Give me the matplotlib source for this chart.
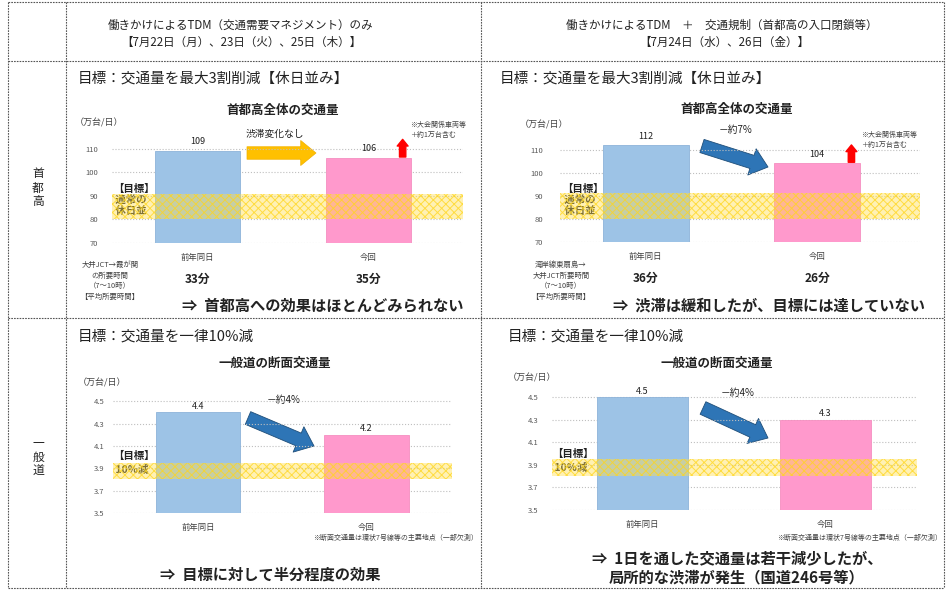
import matplotlib.pyplot as plt

plt.rcParams['font.family'] = ['Noto Sans CJK JP', 'DejaVu Sans']
plt.rcParams['hatch.linewidth'] = 0.7

W, H = 947, 590

# data
categories = ['前年同日', '今回']
shutoko_tdm = [109, 106]
shutoko_reg = [112, 104]
ippan_tdm = [4.4, 4.2]
ippan_reg = [4.5, 4.3]
time_tdm = ['33分', '35分']
time_reg = ['36分', '26分']
shutoko_ticks = [70, 80, 90, 100, 110]
ippan_ticks = [3.5, 3.7, 3.9, 4.1, 4.3, 4.5]
shutoko_band = (80, 91)
ippan_band = (3.8, 3.95)
change_labels = ['渋滞変化なし', '－約7%', '－約4%', '－約4%']

bar_colors = ['#9DC3E6', '#FF99CC']
txt = '#222222'

fig = plt.figure(figsize=(W / 100, H / 100), dpi=100)
bg = fig.add_axes([0, 0, 1, 1])
bg.set_xlim(0, W)
bg.set_ylim(H, 0)
bg.axis('off')

# table grid
ls = (0, (1.5, 1))
for y in [2, 61, 318, 588]:
    bg.plot([8, 944], [y, y], color='#555555', lw=0.8, ls=ls)
for x in [8, 66, 481, 944]:
    bg.plot([x, x], [2, 588], color='#555555', lw=0.8, ls=ls)

# header
bg.text(240, 25, '働きかけによるTDM（交通需要マネジメント）のみ', ha='center', va='center',
        fontsize=8.3, color=txt)
bg.text(241, 42, '【7月22日（月）、23日（火）、25日（木）】', ha='center', va='center',
        fontsize=8.3, color=txt)
bg.text(722, 25, '働きかけによるTDM　＋　交通規制（首都高の入口閉鎖等）', ha='center', va='center',
        fontsize=8.3, color=txt)
bg.text(724, 42, '【7月24日（水）、26日（金）】', ha='center', va='center',
        fontsize=8.3, color=txt)

bg.text(38, 188, '首\n都\n高', ha='center', va='center', fontsize=8.5, color=txt, linespacing=1.1)
bg.text(38, 457, '一\n般\n道', ha='center', va='center', fontsize=8.5, color=txt, linespacing=1.1)

# target lines
bg.text(78, 79, '目標：交通量を最大3割削減【休日並み】', ha='left', va='center', fontsize=10.5, color=txt)
bg.text(500, 79, '目標：交通量を最大3割削減【休日並み】', ha='left', va='center', fontsize=10.5, color=txt)
bg.text(78, 337, '目標：交通量を一律10%減', ha='left', va='center', fontsize=10.5, color=txt)
bg.text(508, 337, '目標：交通量を一律10%減', ha='left', va='center', fontsize=10.5, color=txt)

# chart titles and units
bg.text(283, 110, '首都高全体の交通量', ha='center', va='center', fontsize=9, fontweight='bold', color=txt)
bg.text(737, 109, '首都高全体の交通量', ha='center', va='center', fontsize=9, fontweight='bold', color=txt)
bg.text(275, 363, '一般道の断面交通量', ha='center', va='center', fontsize=9, fontweight='bold', color=txt)
bg.text(717, 363, '一般道の断面交通量', ha='center', va='center', fontsize=9, fontweight='bold', color=txt)
for x, y in [(75, 123), (520, 125), (78, 383), (508, 378)]:
    bg.text(x, y, '（万台/日）', ha='left', va='center', fontsize=6.5, color='#444444')


def chart(rect, xlim, ylim, vals, ticks, band, fmt, pad, ofs):
    x0, x1, ytop, ybot = rect
    ax = fig.add_axes([x0 / W, 1 - ybot / H, (x1 - x0) / W, (ybot - ytop) / H])
    ax.patch.set_alpha(0)
    ax.bar([0, 1], vals, width=0.5, color=bar_colors, edgecolor=['#8DB3D9', '#F58FC0'],
           lw=0.6, zorder=2)
    ax.axhspan(band[0], band[1], facecolor=(1.0, 0.87, 0.3, 0.42),
               edgecolor=(1.0, 0.84, 0.1, 0.75), hatch='xxxx', lw=0, zorder=3)
    ax.set_xlim(*xlim)
    ax.set_ylim(*ylim)
    ax.set_yticks(ticks)
    ax.set_yticklabels([fmt % t for t in ticks])
    ax.yaxis.grid(True, color='#BFBFBF', ls=':', lw=0.8)
    ax.set_axisbelow(True)
    ax.set_xticks([0, 1])
    ax.set_xticklabels(categories)
    ax.tick_params(axis='y', length=0, labelsize=5.5, labelcolor='#595959', pad=pad)
    ax.tick_params(axis='x', length=0, labelsize=6, labelcolor='#404040', pad=7)
    for s in ax.spines.values():
        s.set_visible(False)
    for i, v in enumerate(vals):
        ax.annotate(fmt % v, (i, v), xytext=(0, ofs),
                    textcoords='offset points', ha='center', va='bottom',
                    fontsize=6.5, color=txt, annotation_clip=False)
    return ax


ax1 = chart((112, 463, 137, 243), (-0.5, 1.553), (70, 115), shutoko_tdm, shutoko_ticks,
            shutoko_band, '%d', 10, 4)
ax2 = chart((560, 920, 138, 242), (-0.5, 1.6), (70, 115), shutoko_reg, shutoko_ticks,
            shutoko_band, '%d', 12, 3)
ax3 = chart((113, 452, 390, 513), (-0.504, 1.507), (3.5, 4.6), ippan_tdm, ippan_ticks,
            ippan_band, '%.1f', 6, 1)
ax4 = chart((552, 917, 386, 510), (-0.495, 1.5), (3.5, 4.6), ippan_reg, ippan_ticks,
            ippan_band, '%.1f', 10, 1)

# travel times under the top charts
for ax, times in [(ax1, time_tdm), (ax2, time_reg)]:
    for i, t in enumerate(times):
        ax.annotate(t, (i, 0), xycoords=('data', 'axes fraction'), xytext=(0, -26),
                    textcoords='offset points', ha='center', va='center',
                    fontsize=8.5, fontweight='bold', color=txt, annotation_clip=False)

# red arrows above the current bar
for ax, v in [(ax1, shutoko_tdm[1]), (ax2, shutoko_reg[1])]:
    ax.annotate('', xy=(1.2, v + 8), xytext=(1.2, v + 0.5),
                arrowprops=dict(arrowstyle='simple,head_length=0.4,head_width=0.65,tail_width=0.38',
                                color='#FF0000', shrinkA=0, shrinkB=0, mutation_scale=12),
                annotation_clip=False, zorder=5)

bg.text(410, 130, '※大会関係車両等\n＋約1万台含む', ha='left', va='center', fontsize=5,
        color='#404040', linespacing=1.3)
bg.text(861, 140, '※大会関係車両等\n＋約1万台含む', ha='left', va='center', fontsize=5,
        color='#404040', linespacing=1.3)

# band labels
bg.text(113, 200, '【目標】\n 通常の\n 休日並', ha='left', va='center', fontsize=7.5,
        fontweight='bold', color=txt, linespacing=1.15)
bg.text(562, 200, '【目標】\n 通常の\n 休日並', ha='left', va='center', fontsize=7.5,
        fontweight='bold', color=txt, linespacing=1.15)
bg.text(113, 463, '【目標】\n 10%減', ha='left', va='center', fontsize=7.5,
        fontweight='bold', color=txt, linespacing=1.5)
bg.text(552, 461, '【目標】\n 10%減', ha='left', va='center', fontsize=7.5,
        fontweight='bold', color=txt, linespacing=1.4)

# change arrows
big = 'simple,head_length=0.55,head_width=0.9,tail_width=0.45'
bg.annotate('', xy=(316, 153), xytext=(247, 153),
            arrowprops=dict(arrowstyle=big, fc='#FFC000', ec='#F0B000', lw=0.5,
                            shrinkA=0, shrinkB=0, mutation_scale=20))
for (xa, ya), (xb, yb) in [((702, 146), (768, 167)), ((248, 418), (314, 446)),
                           ((703, 408), (768, 438))]:
    bg.annotate('', xy=(xb, yb), xytext=(xa, ya),
                arrowprops=dict(arrowstyle=big, fc='#2E75B6', ec='#1F4E79', lw=0.6,
                                shrinkA=0, shrinkB=0, mutation_scale=22))
for (x, y), lab in zip([(275, 134), (736, 130), (284, 400), (738, 393)], change_labels):
    bg.text(x, y, lab, ha='center', va='center', fontsize=7, color=txt)

# route notes beside the times
bg.text(110, 281, '大井JCT→霞が関\nの所要時間\n（7～10時）\n【平均所要時間】', ha='center',
        va='center', fontsize=5.3, color='#404040', linespacing=1.45)
bg.text(561, 281, '湾岸線東扇島→\n大井JCT所要時間\n（7～10時）\n【平均所要時間】', ha='center',
        va='center', fontsize=5.3, color='#404040', linespacing=1.45)

# notes under the bottom charts
bg.text(313, 538, '※断面交通量は環状7号線等の主要地点（一部欠測）', ha='left', va='center',
        fontsize=5, color='#404040')
bg.text(777, 538, '※断面交通量は環状7号線等の主要地点（一部欠測）', ha='left', va='center',
        fontsize=5, color='#404040')

# conclusions
bg.text(182, 305, '⇒  首都高への効果はほとんどみられない', ha='left', va='center',
        fontsize=11, fontweight='bold', color=txt)
bg.text(613, 305, '⇒  渋滞は緩和したが、目標には達していない', ha='left', va='center',
        fontsize=11, fontweight='bold', color=txt)
bg.text(160, 575, '⇒  目標に対して半分程度の効果', ha='left', va='center',
        fontsize=11, fontweight='bold', color=txt)
bg.text(592, 558, '⇒  1日を通した交通量は若干減少したが、', ha='left', va='center',
        fontsize=11, fontweight='bold', color=txt)
bg.text(737, 577, '局所的な渋滞が発生（国道246号等）', ha='center', va='center',
        fontsize=11, fontweight='bold', color=txt)

fig.savefig('out.png', dpi=100)
